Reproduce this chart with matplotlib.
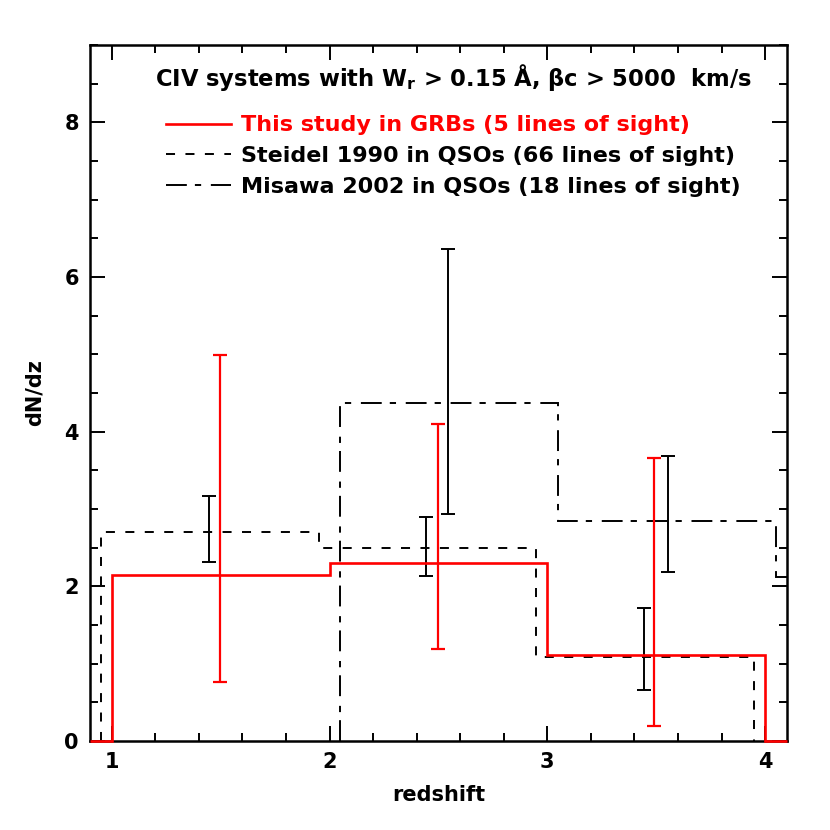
import numpy as np
from matplotlib import pyplot as plt

# histogram bins (edges) and dN/dz levels
grb_edges = [0.9, 1.0, 2.0, 3.0, 4.0, 4.1]
grb_dndz = [0.0, 2.15, 2.30, 1.11, 0.0]
steidel_edges = [0.95, 1.95, 2.95, 3.95]
steidel_dndz = [2.70, 2.50, 1.09]
misawa_edges = [2.05, 3.05, 4.05, 5.05]
misawa_dndz = [4.37, 2.84, 2.12]

# error bars: x, central value, lower, upper
grb_err_x = [1.495, 2.497, 3.49]
grb_err_y = [2.15, 2.30, 1.11]
grb_err_lo = [0.76, 1.19, 0.19]
grb_err_hi = [4.99, 4.10, 3.66]
steidel_err_x = [1.446, 2.445, 3.446]
steidel_err_y = [2.70, 2.50, 1.09]
steidel_err_lo = [2.31, 2.14, 0.66]
steidel_err_hi = [3.17, 2.90, 1.72]
misawa_err_x = [2.546, 3.556]
misawa_err_y = [4.37, 2.84]
misawa_err_lo = [2.93, 2.18]
misawa_err_hi = [6.36, 3.68]

labels = ['This study in GRBs (5 lines of sight)',
          'Steidel 1990 in QSOs (66 lines of sight)',
          'Misawa 2002 in QSOs (18 lines of sight)']

plt.rcParams['font.family'] = 'DejaVu Sans'
plt.rcParams['font.weight'] = 'bold'
plt.rcParams['font.size'] = 16
plt.rcParams['lines.scale_dashes'] = False

fig = plt.figure(figsize = (8.3, 8.3), dpi = 100)
ax = fig.add_axes([0.1084, 0.1072, 0.8396, 0.8386])

short_dash = (0, (6.5, 7.5))
dash_dot = (0, (15, 5.8, 4.5, 7))

h1 = ax.stairs(grb_dndz, grb_edges, baseline = 0, color = 'red', lw = 1.9,
               zorder = 3, clip_on = False)
h2 = ax.stairs(steidel_dndz, steidel_edges, baseline = 0, color = 'k',
               lw = 1.4, linestyle = short_dash)
h3 = ax.stairs(misawa_dndz, misawa_edges, baseline = 0, color = 'k',
               lw = 1.4, linestyle = dash_dot)

def errs(y, lo, hi):
    y = np.array(y)
    return [y - np.array(lo), np.array(hi) - y]

ax.errorbar(steidel_err_x, steidel_err_y,
            yerr = errs(steidel_err_y, steidel_err_lo, steidel_err_hi),
            fmt = 'none', ecolor = 'k', elinewidth = 1.4, capsize = 4.7,
            capthick = 1.4)
ax.errorbar(misawa_err_x, misawa_err_y,
            yerr = errs(misawa_err_y, misawa_err_lo, misawa_err_hi),
            fmt = 'none', ecolor = 'k', elinewidth = 1.4, capsize = 4.7,
            capthick = 1.4)
ax.errorbar(grb_err_x, grb_err_y,
            yerr = errs(grb_err_y, grb_err_lo, grb_err_hi),
            fmt = 'none', ecolor = 'red', elinewidth = 1.6, capsize = 4.7,
            capthick = 1.6)

ax.set_xlim(0.9, 4.1)
ax.set_ylim(0, 9)
ax.set_xticks([1, 2, 3, 4])
ax.set_xticks(np.arange(1.0, 4.1, 0.2), minor = True)
ax.set_yticks([0, 2, 4, 6, 8])
ax.set_yticks(np.arange(0, 9.01, 0.5), minor = True)
ax.tick_params(which = 'both', direction = 'in', top = True, right = True,
               width = 1.4)
ax.tick_params(which = 'major', length = 11, labelsize = 15, pad = 8)
ax.tick_params(which = 'minor', length = 6)
for s in ax.spines.values():
    s.set_linewidth(1.8)

ax.set_xlabel('redshift', fontsize = 15, fontweight = 'bold', labelpad = 9)
ax.set_ylabel('dN/dz', fontsize = 15, fontweight = 'bold', labelpad = 14)

ax.text(0.522, 0.954, r'CIV systems with W$_\mathbf{r}$ > 0.15 Å, βc > 5000  km/s',
        transform = ax.transAxes, ha = 'center', va = 'center', fontsize = 16.3,
        fontweight = 'bold')

leg = ax.legend([h1, h2, h3], labels, loc = 'upper left',
                bbox_to_anchor = (0.109, 0.899), frameon = False,
                handlelength = 2.95, handletextpad = 0.45, labelspacing = 0.48,
                borderpad = 0, borderaxespad = 0, fontsize = 16)
leg.get_texts()[0].set_color('red')

fig.savefig('out.png', dpi = 100)
